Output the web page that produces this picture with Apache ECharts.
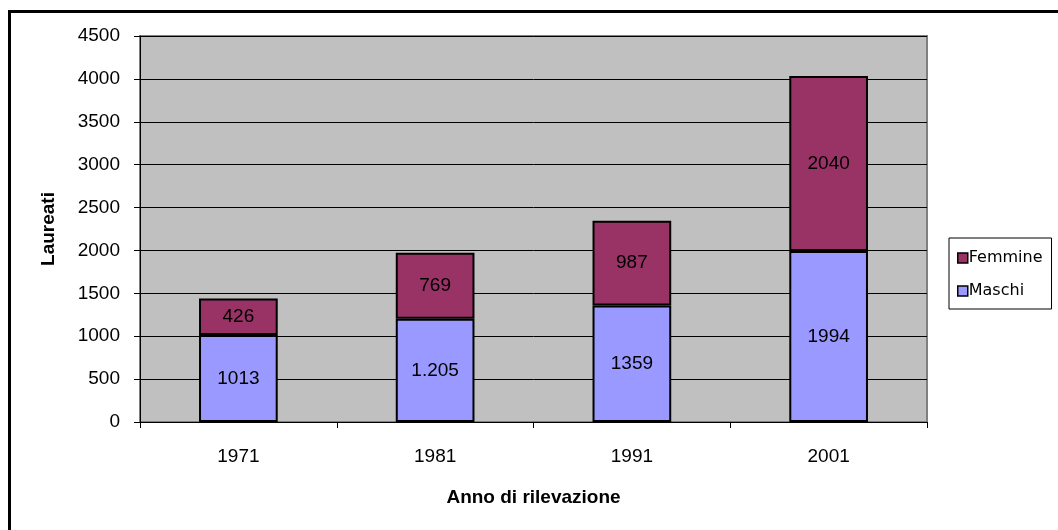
<!DOCTYPE html>
<html>
<head>
<meta charset="utf-8">
<script src="https://cdn.jsdelivr.net/npm/echarts@6/dist/echarts.min.js"></script>
<style>
  html, body { margin: 0; padding: 0; background: #fff; }
  #chart { width: 1058px; height: 530px; }
</style>
</head>
<body>
<div id="chart"></div>
<script>
var anni = ['1971', '1981', '1991', '2001'];
var maschi = [1013, 1205, 1359, 1994];
var femmine = [426, 769, 987, 2040];
// etichette come scritte sul grafico originale
var etichetteMaschi = ['1013', '1.205', '1359', '1994'];

var chart = echarts.init(document.getElementById('chart'));
var font = 'Liberation Sans, Arial, sans-serif';

var option = {
    backgroundColor: '#fff',
    animation: false,
    graphic: [{
        type: 'rect',
        shape: { x: 9.5, y: 11.5, width: 1200, height: 700 },
        style: { fill: 'none', stroke: '#000', lineWidth: 3 },
        silent: true
    }],
    grid: {
        left: 140, top: 36, right: 131, bottom: 108,
        show: true,
        backgroundColor: '#C0C0C0',
        borderColor: '#808080',
        borderWidth: 2
    },
    legend: {
        orient: 'vertical',
        left: 949, top: 238,
        data: ['Femmine', 'Maschi'],
        icon: 'rect',
        itemWidth: 10, itemHeight: 10,
        itemGap: 17,
        padding: [12, 9, 10, 8],
        borderColor: '#000',
        borderWidth: 1,
        itemStyle: { borderColor: '#000', borderWidth: 1.5 },
        textStyle: { fontFamily: 'DejaVu Sans, sans-serif', fontSize: 16, color: '#000', padding: [0, 0, 0, -4] }
    },
    xAxis: {
        type: 'category',
        data: anni,
        name: 'Anno di rilevazione',
        nameLocation: 'middle',
        nameGap: 66,
        nameTextStyle: { fontFamily: font, fontSize: 19, fontWeight: 'bold', color: '#000' },
        axisLine: { lineStyle: { color: '#000', width: 1 } },
        axisTick: { show: true, length: 6, lineStyle: { color: '#000' } },
        axisLabel: { fontFamily: font, fontSize: 19, color: '#000', margin: 25 }
    },
    yAxis: {
        type: 'value',
        min: 0, max: 4500, interval: 500,
        name: 'Laureati',
        nameLocation: 'middle',
        nameGap: 82,
        nameTextStyle: { fontFamily: font, fontSize: 19, fontWeight: 'bold', color: '#000' },
        axisLine: { show: true, lineStyle: { color: '#000', width: 1 } },
        axisTick: { show: true, length: 6, lineStyle: { color: '#000' } },
        axisLabel: { fontFamily: font, fontSize: 19, color: '#000', margin: 20,
            formatter: function (v) { return String(v); } },
        splitLine: { lineStyle: { color: '#000', width: 1 } }
    },
    series: [
        {
            name: 'Maschi',
            type: 'bar',
            stack: 'tot',
            barWidth: '40%',
            data: maschi,
            itemStyle: { color: '#9999FF', borderColor: '#000', borderWidth: 2 },
            label: {
                show: true, position: 'inside',
                fontFamily: font, fontSize: 19, color: '#000',
                formatter: function (p) { return etichetteMaschi[p.dataIndex]; }
            }
        },
        {
            name: 'Femmine',
            type: 'bar',
            stack: 'tot',
            data: femmine,
            itemStyle: { color: '#993366', borderColor: '#000', borderWidth: 2 },
            label: {
                show: true, position: 'inside',
                fontFamily: font, fontSize: 19, color: '#000'
            }
        }
    ]
};

chart.setOption(option);
</script>
</body>
</html>
